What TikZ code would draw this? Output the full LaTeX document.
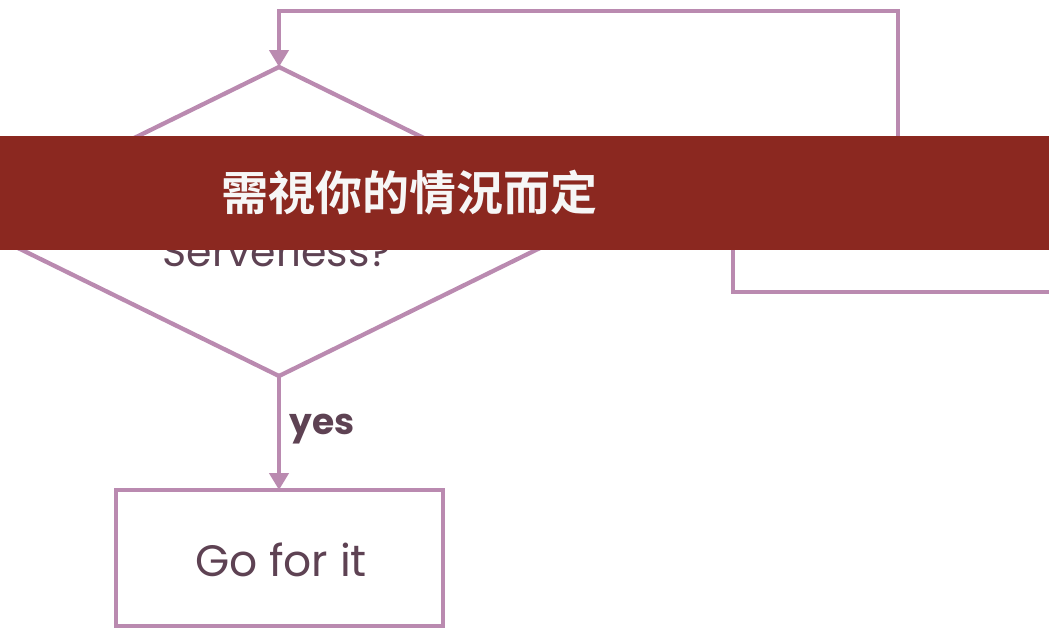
\documentclass[tikz,border=0pt]{standalone}
\usepackage{fontspec}
\setmainfont{Poppins}
\newfontfamily\cjk{Noto Sans CJK TC}[BoldFont={* Bold}]
\usetikzlibrary{arrows.meta,shapes.geometric}
\definecolor{flow}{HTML}{BA8AB0}
\definecolor{ink}{HTML}{5E4253}
\definecolor{banner}{HTML}{8B2820}
\tikzset{
  flowline/.style={draw=flow,line width=4.3pt},
  flowarrow/.style={flowline,-{Triangle[width=19pt,length=17pt]}},
  boxtext/.style={text=ink,font=\fontsize{44}{48}\selectfont},
}
\begin{document}
\begin{tikzpicture}[x=1pt,y=-1pt]
\useasboundingbox (0,0) rectangle (1049,629);
% diamond
\coordinate (dtop) at (279,67);
\coordinate (dbot) at (279,376);
\coordinate (dleft) at (-36,221.5);
\coordinate (dright) at (594,221.5);
\draw[flowline,line join=miter] (dtop) -- (dright) -- (dbot) -- (dleft) -- cycle;
\node[boxtext,anchor=base,font=\fontsize{41}{46}\selectfont] (q) at (277,266) {Serverless?};
% right box
\draw[flowline] (1100,170) -- (733,170) -- (733,292) -- (1100,292);
\coordinate (rtop) at (898,170);
\coordinate (c1) at (898,11);
\coordinate (c2) at (279,11);
\draw[flowarrow,line join=miter] (rtop) -- (c1) -- (c2) -- (dtop);
% yes box
\node[draw=flow,line width=4.3pt,outer sep=0pt,minimum width=327pt,minimum height=136pt,anchor=north west,inner sep=0pt] (go) at (116,490) {};
\node[boxtext] (gotext) at (281,560) {Go for it};
\draw[flowarrow] (dbot) -- (dbot |- go.north);
\node[text=ink,font=\fontsize{36}{40}\selectfont\bfseries,anchor=west] (yes) at (286,429) {yes};
% banner
\fill[banner] (0,136) rectangle (1049,250);
\node[text=white!93!gray,font=\cjk\bfseries\fontsize{47}{52}\selectfont] (b) at (409,193) {需視你的情況而定};
\end{tikzpicture}
\end{document}
